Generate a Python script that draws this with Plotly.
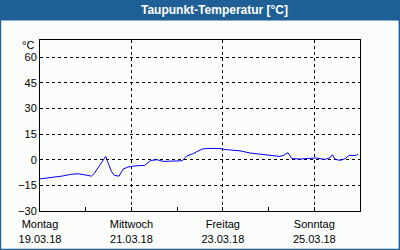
import plotly.graph_objects as go
import pandas as pd

# --- data ---
times = [
    "2018-03-19 00:00", "2018-03-19 03:40", "2018-03-19 08:00", "2018-03-19 11:30",
    "2018-03-19 16:00", "2018-03-19 20:00", "2018-03-20 00:10", "2018-03-20 03:00",
    "2018-03-20 04:30", "2018-03-20 06:30", "2018-03-20 08:30", "2018-03-20 10:30",
    "2018-03-20 11:40", "2018-03-20 13:20", "2018-03-20 15:00", "2018-03-20 17:30",
    "2018-03-20 19:40", "2018-03-20 22:10", "2018-03-21 02:00", "2018-03-21 07:00",
    "2018-03-21 10:00", "2018-03-21 13:30", "2018-03-21 16:40", "2018-03-21 23:00",
    "2018-03-22 02:40", "2018-03-22 05:10", "2018-03-22 08:00", "2018-03-22 10:30",
    "2018-03-22 13:40", "2018-03-22 17:20", "2018-03-22 22:30", "2018-03-23 01:40",
    "2018-03-23 05:30", "2018-03-23 09:00", "2018-03-23 14:20", "2018-03-23 19:30",
    "2018-03-24 00:50", "2018-03-24 06:00", "2018-03-24 08:00", "2018-03-24 10:10",
    "2018-03-24 12:20", "2018-03-24 16:40", "2018-03-24 21:50", "2018-03-25 01:00",
    "2018-03-25 03:00", "2018-03-25 05:40", "2018-03-25 08:20", "2018-03-25 09:30",
    "2018-03-25 11:00", "2018-03-25 13:40", "2018-03-25 16:10", "2018-03-25 18:20",
    "2018-03-25 21:30", "2018-03-25 23:00",
]
dewpoint = [
    -11.2, -10.8, -10.2, -9.6,
    -8.6, -8.2, -9.0, -9.6,
    -8.0, -4.5, -1.2, 1.9,
    -1.5, -6.5, -9.2, -9.6,
    -5.5, -4.3, -3.6, -3.3,
    -0.5, 0.0, -1.0, -1.0,
    -0.6, 2.3, 3.3, 4.8,
    6.4, 6.6, 6.5, 5.9,
    5.5, 5.2, 3.9, 3.1,
    2.5, 1.9, 2.6, 4.1,
    0.6, 0.4, 0.8, 1.0,
    0.6, 0.2, 1.2, 2.9,
    0.2, -0.4, 0.6, 2.5,
    2.5, 3.1,
]
tick_dates = ["2018-03-19", "2018-03-21", "2018-03-23", "2018-03-25"]
tick_days = ["Montag", "Mittwoch", "Freitag", "Sonntag"]
tick_labels = ["19.03.18", "21.03.18", "23.03.18", "25.03.18"]
y_ticks = [-30, -15, 0, 15, 30, 45, 60]
title = "Taupunkt-Temperatur [°C]"
unit = "°C"

BLUE = "#1e5f96"
BG = "#fbfdfb"
FONT = "Liberation Sans"

x = pd.to_datetime(times)

fig = go.Figure()
fig.add_trace(go.Scatter(x=x, y=dewpoint, mode="lines",
                         line=dict(color="#0000ff", width=1),
                         hoverinfo="skip", showlegend=False))

fig.update_layout(
    width=400, height=250,
    margin=dict(l=40, r=40, t=40, b=39, autoexpand=False),
    paper_bgcolor=BG, plot_bgcolor=BG,
    font=dict(family=FONT, size=11, color="black"),
    showlegend=False,
)
fig.update_xaxes(
    range=["2018-03-19 00:00", "2018-03-26 00:00"],
    tickvals=pd.to_datetime(tick_dates),
    ticktext=[f"{d}<br>{l}" for d, l in zip(tick_days, tick_labels)],
    showgrid=True, gridcolor="black", gridwidth=1, griddash="3px,3px",
    showline=True, linecolor="black", linewidth=1, mirror=True,
    ticks="inside", ticklen=4, tickcolor="black",
    minor=dict(dtick=86400000, ticks="inside", ticklen=4, tickcolor="black", showgrid=False),
    zeroline=False, fixedrange=True, automargin=False, ticklabelstandoff=3,
)
fig.update_yaxes(
    range=[-30, 70], tickvals=y_ticks,
    showgrid=True, gridcolor="black", gridwidth=1, griddash="3px,3px",
    showline=True, linecolor="black", linewidth=1, mirror=True,
    ticks="", zeroline=False, fixedrange=True, automargin=False,
)

# frame decorations: title bar and thin blue border
shapes = [
    dict(type="rect", xref="paper", yref="paper", x0=-0.13, x1=1.13,
         y0=(211 - 20.5) / 171, y1=1.25, fillcolor=BLUE, line=dict(width=0), layer="above"),
    dict(type="rect", xref="paper", yref="paper", x0=-0.13, x1=-40 / 320 + 1.2 / 320,
         y0=-0.25, y1=1.25, fillcolor=BLUE, line=dict(width=0), layer="above"),
    dict(type="rect", xref="paper", yref="paper", x0=(398.6 - 40) / 320, x1=1.13,
         y0=-0.25, y1=1.25, fillcolor=BLUE, line=dict(width=0), layer="above"),
    dict(type="rect", xref="paper", yref="paper", x0=-0.13, x1=1.13,
         y0=-0.25, y1=(211 - 248.8) / 171, fillcolor=BLUE, line=dict(width=0), layer="above"),
]
fig.update_layout(shapes=shapes)

fig.add_annotation(text=title, xref="paper", yref="paper",
                   x=(214 - 40) / 320, y=(211 - 10.5) / 171,
                   xanchor="center", yanchor="middle", showarrow=False,
                   font=dict(family=FONT, size=12, color="white", weight="bold"))
fig.add_annotation(text=unit, xref="paper", yref="paper",
                   x=(36 - 40) / 320, y=(211 - 45) / 171,
                   xanchor="right", yanchor="middle", showarrow=False,
                   font=dict(family=FONT, size=11, color="black"))

fig.write_html("out.html")
